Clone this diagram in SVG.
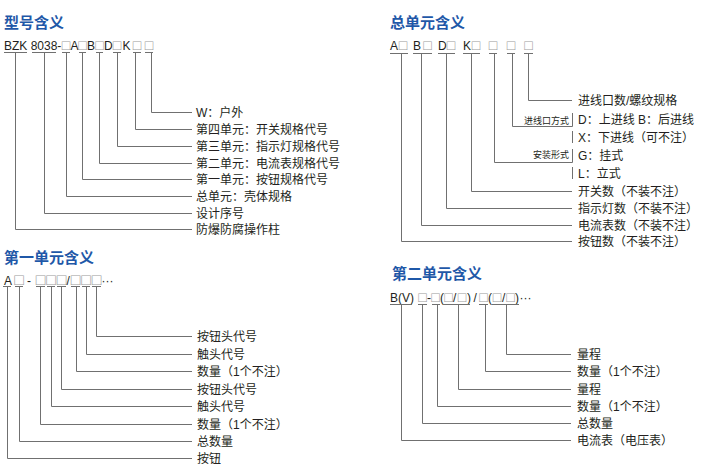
<svg xmlns="http://www.w3.org/2000/svg" width="703" height="465" viewBox="0 0 703 465">
<style>
.t{font-family:"Liberation Sans","Noto Sans CJK SC",sans-serif;font-size:12px;fill:#231f20}
.h{font-family:"Noto Sans CJK SC",sans-serif;font-size:15px;font-weight:bold;fill:#1f58a8}
.b{font-family:"Liberation Sans","DejaVu Sans",sans-serif;font-size:14px;fill:#9a9a9a}
.b2{font-family:"Liberation Sans","DejaVu Sans",sans-serif;font-size:16px;fill:#9a9a9a}
.s{font-family:"Noto Sans CJK SC",sans-serif;font-size:9px;fill:#231f20}
.ln{fill:none;stroke:#707070;stroke-width:1}
</style>
<rect width="703" height="465" fill="#ffffff"/>

<!-- Section 1: 型号含义 -->
<g id="title1"><text class="h" x="4" y="28">型号含义</text></g>
<g id="code1"><text class="t" y="49.5"><tspan x="4">BZK 8038-</tspan><tspan class="b" x="61.8">□</tspan><tspan x="70.5">A</tspan><tspan class="b" x="78.3">□</tspan><tspan x="87">B</tspan><tspan class="b" x="95.3">□</tspan><tspan x="104">D</tspan><tspan class="b" x="112.8">□</tspan><tspan x="122.5">K</tspan><tspan class="b" x="132.8">□</tspan><tspan class="b" x="144.8">□</tspan></text></g>
<g id="n1-w"><text class="t" x="196" y="117">W：户外</text></g>
<g id="n1-4"><text class="t" x="196" y="134">第四单元：开关规格代号</text></g>
<g id="n1-3"><text class="t" x="196" y="151">第三单元：指示灯规格代号</text></g>
<g id="n1-2"><text class="t" x="196" y="168">第二单元：电流表规格代号</text></g>
<g id="n1-1"><text class="t" x="196" y="184">第一单元：按钮规格代号</text></g>
<g id="n1-0"><text class="t" x="196" y="201">总单元：壳体规格</text></g>
<g id="n1-seq"><text class="t" x="196" y="218">设计序号</text></g>
<g id="n1-col"><text class="t" x="196" y="234">防爆防腐操作柱</text></g>

<!-- Section 2: 总单元含义 -->
<g id="title2"><text class="h" x="390" y="28">总单元含义</text></g>
<g id="code2"><text class="t" y="49.5"><tspan x="390">A</tspan><tspan class="b" x="398.8">□</tspan><tspan x="413">B</tspan><tspan class="b" x="423.3">□</tspan><tspan x="438">D</tspan><tspan class="b" x="446.8">□</tspan><tspan x="463">K</tspan><tspan class="b" x="471.8">□</tspan><tspan class="b" x="488.8">□</tspan><tspan class="b" x="506.8">□</tspan><tspan class="b" x="524.3">□</tspan></text></g>
<g id="n2-port"><text class="t" x="578" y="105">进线口数/螺纹规格</text></g>
<g id="n2-way"><text class="s" x="569" y="123.5" text-anchor="end">进线口方式</text><text class="t" x="578" y="123.5">D：上进线 B：后进线</text><text class="t" x="578" y="141.5">X：下进线（可不注）</text></g>
<g id="n2-mount"><text class="s" x="569" y="158" text-anchor="end">安装形式</text><text class="t" x="578" y="159.5">G：挂式</text><text class="t" x="578" y="177.5">L：立式</text></g>
<g id="n2-k"><text class="t" x="578" y="196">开关数（不装不注）</text></g>
<g id="n2-d"><text class="t" x="578" y="213">指示灯数（不装不注）</text></g>
<g id="n2-b"><text class="t" x="578" y="230">电流表数（不装不注）</text></g>
<g id="n2-a"><text class="t" x="578" y="246">按钮数（不装不注）</text></g>

<!-- Section 3: 第一单元含义 -->
<g id="title3"><text class="h" x="4" y="263">第一单元含义</text></g>
<g id="code3"><text class="t" y="284.5"><tspan x="4">A</tspan><tspan class="b2" x="14.2">□</tspan><tspan x="27">-</tspan><tspan class="b2" x="35.7">□</tspan><tspan class="b2" x="46.2">□</tspan><tspan class="b2" x="56.7">□</tspan><tspan x="66.5">/</tspan><tspan class="b2" x="70.7">□</tspan><tspan class="b2" x="81.2">□</tspan><tspan class="b2" x="91.7">□</tspan><tspan x="101.5">···</tspan></text></g>
<g id="n3-1"><text class="t" x="197" y="341">按钮头代号</text></g>
<g id="n3-2"><text class="t" x="197" y="359">触头代号</text></g>
<g id="n3-3"><text class="t" x="197" y="376">数量（1个不注）</text></g>
<g id="n3-4"><text class="t" x="197" y="394">按钮头代号</text></g>
<g id="n3-5"><text class="t" x="197" y="411">触头代号</text></g>
<g id="n3-6"><text class="t" x="197" y="429">数量（1个不注）</text></g>
<g id="n3-7"><text class="t" x="197" y="446">总数量</text></g>
<g id="n3-8"><text class="t" x="197" y="463">按钮</text></g>

<!-- Section 4: 第二单元含义 -->
<g id="title4"><text class="h" x="392" y="279">第二单元含义</text></g>
<g id="code4"><text class="t" y="302"><tspan x="390">B(V)</tspan><tspan class="b" x="418.3">□</tspan><tspan x="427">-</tspan><tspan class="b" x="431.3">□</tspan><tspan x="440">(</tspan><tspan class="b" x="444.3">□</tspan><tspan x="453">/</tspan><tspan class="b" x="457.8">□</tspan><tspan x="467">)</tspan><tspan x="473.5">/</tspan><tspan class="b" x="479.3">□</tspan><tspan x="488">(</tspan><tspan class="b" x="492.8">□</tspan><tspan x="502">/</tspan><tspan class="b" x="506.3">□</tspan><tspan x="515">)</tspan><tspan x="519.5">···</tspan></text></g>
<g id="n4-1"><text class="t" x="577" y="359">量程</text></g>
<g id="n4-2"><text class="t" x="577" y="376">数量（1个不注）</text></g>
<g id="n4-3"><text class="t" x="577" y="394">量程</text></g>
<g id="n4-4"><text class="t" x="577" y="411">数量（1个不注）</text></g>
<g id="n4-5"><text class="t" x="577" y="428">总数量</text></g>
<g id="n4-6"><text class="t" x="577" y="445">电流表（电压表）</text></g>

<g id="connectors" class="ln">
<path d="M4,52.5H27M32,52.5H56M62,52.5H70M79,52.5H86M96,52.5H103M113,52.5H121M133,52.5H141M145,52.5H153"/>
<path d="M151.5,52.5V112.5H192"/>
<path d="M135.5,52.5V129.5H192"/>
<path d="M117.5,52.5V146.5H192"/>
<path d="M99.5,52.5V163.5H192"/>
<path d="M82.5,52.5V179.5H192"/>
<path d="M66.5,52.5V196.5H192"/>
<path d="M44.5,52.5V213.5H192"/>
<path d="M15.5,52.5V229.5H192"/>
<path d="M390,53.5H408M413,53.5H432M438,53.5H455M463,53.5H480M489,53.5H497M507,53.5H515M524,53.5H533"/>
<path d="M528.5,53.5V100.5H572"/>
<path d="M512.5,53.5V126.5H572.5"/>
<path d="M494.5,53.5V162.5H572.5"/>
<path d="M572.5,113V126.5M572.5,131V143M572.5,149V162.5M572.5,167V179"/>
<path d="M471.5,53.5V191.5H572"/>
<path d="M446.5,53.5V208.5H572"/>
<path d="M421.5,53.5V225.5H572"/>
<path d="M401.5,53.5V241.5H572"/>
<path d="M3,286.5H11M15,286.5H23M36,286.5H45M47,286.5H55M57,286.5H66M71,286.5H80M82,286.5H90M92,286.5H101"/>
<path d="M96.5,286.5V336.5H192"/>
<path d="M86.5,286.5V354.5H192"/>
<path d="M76.5,286.5V371.5H192"/>
<path d="M61.5,286.5V389.5H192"/>
<path d="M51.5,286.5V406.5H192"/>
<path d="M40.5,286.5V424.5H192"/>
<path d="M19.5,286.5V441.5H192"/>
<path d="M7.5,286.5V458.5H192"/>
<path d="M390,304.5H412M418,304.5H427M432,304.5H440M443,304.5H470M479,304.5H488M492,304.5H519"/>
<path d="M506.5,304.5V354.5H571"/>
<path d="M485.5,304.5V371.5H571"/>
<path d="M458.5,304.5V389.5H571"/>
<path d="M437.5,304.5V406.5H571"/>
<path d="M422.5,304.5V423.5H571"/>
<path d="M401.5,304.5V440.5H571"/>
</g>
</svg>
